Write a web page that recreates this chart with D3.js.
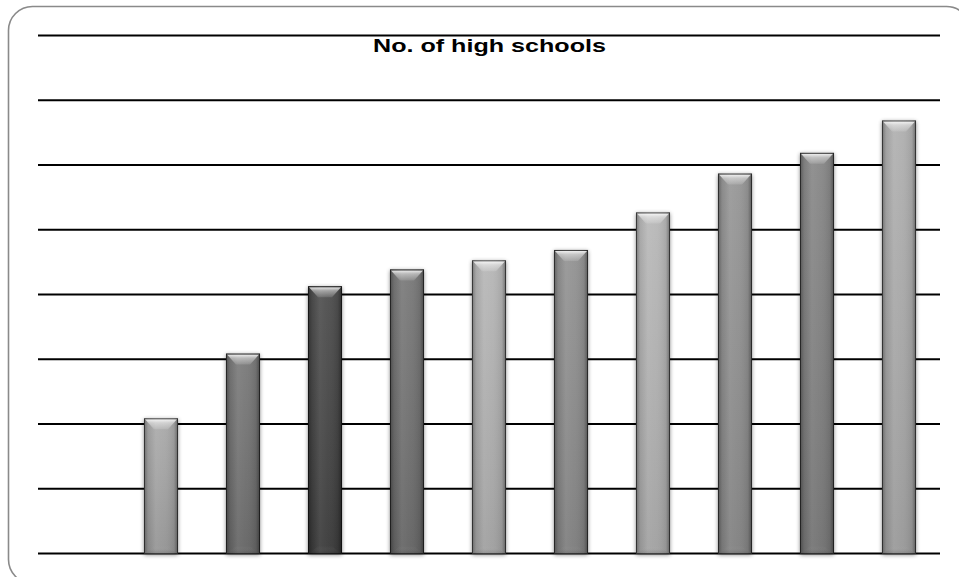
<!DOCTYPE html>
<html><head><meta charset="utf-8">
<script src="https://cdn.jsdelivr.net/npm/d3@7"></script>
<style>html,body{margin:0;padding:0;background:#fff;overflow:hidden}</style>
</head><body>
<svg id="chart" width="959" height="577"></svg>
<script>
// ---- data ----
const title = "No. of high schools";
const categories = ["0","1","2","3","4","5","6","7","8","9","10"];
const values = [null,104,154,206,219,226,234,263,293,309,334];
const yTicks = [0,50,100,150,200,250,300,350,400];
// ---- styles ----
const barColors = ["#999","#a3a3a3","#6f6f6f","#404040","#6e6e6e","#b0b0b0","#8a8a8a","#b2b2b2","#8e8e8e","#7e7e7e","#a9a9a9"];

const svg = d3.select("#chart");
const W = 959, H = 577;
const plot = {left:38, right:940, top:35, bottom:553};

const defs = svg.append("defs");
const f = defs.append("filter").attr("id","shadow").attr("x","-50%").attr("y","-10%").attr("width","200%").attr("height","120%");
f.append("feGaussianBlur").attr("in","SourceAlpha").attr("stdDeviation",2.2).attr("result","b");
f.append("feOffset").attr("in","b").attr("dx",0).attr("dy",1).attr("result","o");
f.append("feComponentTransfer").attr("in","o").append("feFuncA").attr("type","linear").attr("slope",0.45);

const hg = defs.append("linearGradient").attr("id","hgrad").attr("x1","0").attr("x2","1").attr("y1","0").attr("y2","0");
[[0,"#000",0.35],[0.12,"#000",0.08],[0.35,"#fff",0.08],[0.6,"#fff",0.04],[0.88,"#000",0.08],[1,"#000",0.4]].forEach(s=>
  hg.append("stop").attr("offset",s[0]).attr("stop-color",s[1]).attr("stop-opacity",s[2]));
const vg = defs.append("linearGradient").attr("id","vgrad").attr("x1","0").attr("x2","0").attr("y1","0").attr("y2","1");
[[0,"#fff",0.08],[1,"#000",0.1]].forEach(s=>
  vg.append("stop").attr("offset",s[0]).attr("stop-color",s[1]).attr("stop-opacity",s[2]));
const tg = defs.append("linearGradient").attr("id","tgrad").attr("x1","0").attr("x2","0").attr("y1","0").attr("y2","1");
[[0,"#fff",0.85],[0.35,"#fff",0.45],[1,"#fff",0.12]].forEach(s=>
  tg.append("stop").attr("offset",s[0]).attr("stop-color",s[1]).attr("stop-opacity",s[2]));
const bg = defs.append("linearGradient").attr("id","bgrad").attr("x1","0").attr("x2","0").attr("y1","0").attr("y2","1");
[[0,"#fff",0.0],[1,"#000",0.15]].forEach(s=>
  bg.append("stop").attr("offset",s[0]).attr("stop-color",s[1]).attr("stop-opacity",s[2]));

// border
svg.append("rect").attr("x",8.5).attr("y",6.5).attr("width",962).attr("height",577).attr("rx",24)
  .attr("fill","none").attr("stroke","#8a8a8a").attr("stroke-width",1.6);

const x = d3.scaleBand().domain(categories).range([plot.left, plot.right]).paddingInner(0.585).paddingOuter(0.2925);
const y = d3.scaleLinear().domain([0,400]).range([plot.bottom, plot.top]);

// gridlines via axis
const axis = d3.axisLeft(y).tickValues(yTicks).tickSize(-(plot.right-plot.left)).tickFormat("");
const g = svg.append("g").attr("transform",`translate(${plot.left},0)`).call(axis);
g.select(".domain").remove();
g.selectAll(".tick line").attr("stroke","#000").attr("stroke-width",2);

// title
svg.append("text").attr("x",489.5).attr("y",52).attr("text-anchor","middle")
  .attr("font-family","Liberation Sans, Arial, sans-serif").attr("font-weight","bold").attr("font-size",19)
  .attr("textLength",233).attr("lengthAdjust","spacingAndGlyphs").attr("fill","#000").text(title);

// bars
const data = categories.map((c,i)=>({c, v:values[i], col:barColors[i]})).filter(d=>d.v!=null);
const bars = svg.append("g").selectAll("g").data(data).join("g");
const bw = x.bandwidth();
bars.append("rect").attr("x",d=>x(d.c)).attr("y",d=>y(d.v)).attr("width",bw).attr("height",d=>y(0)-y(d.v)+1)
  .attr("fill","#000").attr("filter","url(#shadow)");
bars.append("rect").attr("x",d=>x(d.c)).attr("y",d=>y(d.v)).attr("width",bw).attr("height",d=>y(0)-y(d.v)+1)
  .attr("fill",d=>d.col);
bars.append("rect").attr("x",d=>x(d.c)).attr("y",d=>y(d.v)).attr("width",bw).attr("height",d=>y(0)-y(d.v)+1)
  .attr("fill","url(#vgrad)");
bars.append("rect").attr("x",d=>x(d.c)).attr("y",d=>y(d.v)).attr("width",bw).attr("height",d=>y(0)-y(d.v)+1)
  .attr("fill","url(#hgrad)");
// top bevel
const bevH = 11, bevI = 10;
bars.append("polygon").attr("points",d=>{
  const x0=x(d.c), x1=x0+bw, y0=y(d.v);
  return [[x0+1,y0+1],[x1-1,y0+1],[x1-bevI,y0+bevH],[x0+bevI,y0+bevH]].map(p=>p.join(",")).join(" ");
}).attr("fill","url(#tgrad)");
// bottom bevel
bars.append("polygon").attr("points",d=>{
  const x0=x(d.c), x1=x0+bw, yb=y(0)+1;
  return [[x0+bevI,yb-8],[x1-bevI,yb-8],[x1-1,yb],[x0+1,yb]].map(p=>p.join(",")).join(" ");
}).attr("fill","url(#bgrad)");
// outline
bars.append("rect").attr("x",d=>x(d.c)+0.5).attr("y",d=>y(d.v)+0.5).attr("width",bw-1).attr("height",d=>y(0)-y(d.v))
  .attr("fill","none").attr("stroke","#000").attr("stroke-opacity",0.55).attr("stroke-width",1);
</script>
</body></html>
